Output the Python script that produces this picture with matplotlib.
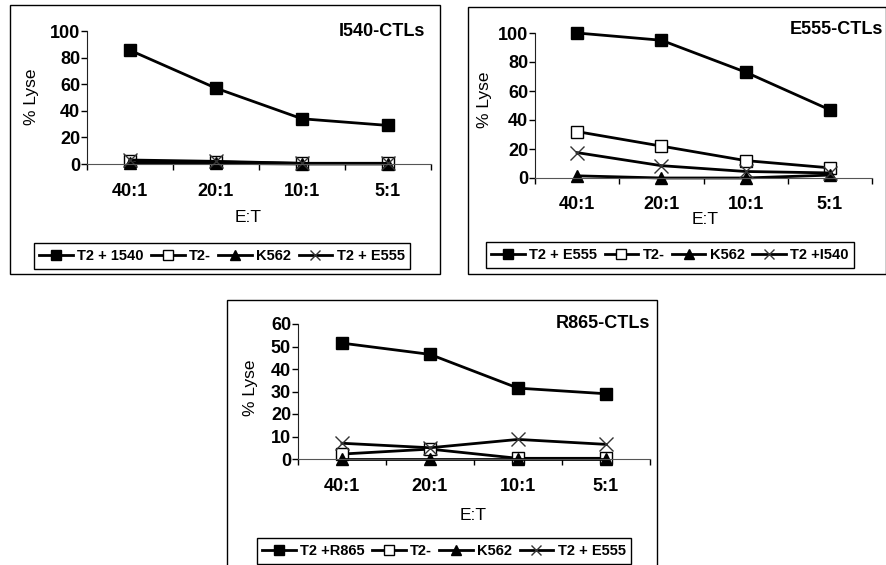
import matplotlib.pyplot as plt
from matplotlib.patches import Rectangle
from matplotlib.lines import Line2D

plt.rcParams['font.family'] = ['Liberation Sans', 'DejaVu Sans']

W, H = 887, 565

ratios = ['40:1', '20:1', '10:1', '5:1']

# I540-CTLs panel
i540_own = [85.5, 57, 34, 29]
i540_t2neg = [2, 1.5, 0.5, 0.5]
i540_k562 = [1, 0.5, 0, 0]
i540_e555 = [3, 2, 0.5, 0.5]
i540_labels = ['T2 + 1540', 'T2-', 'K562', 'T2 + E555']

# E555-CTLs panel
e555_own = [100, 95, 73, 47]
e555_t2neg = [32, 22, 12, 7]
e555_k562 = [1.5, 0, 0, 2]
e555_i540 = [17.5, 8.5, 4.5, 3.5]
e555_labels = ['T2 + E555', 'T2-', 'K562', 'T2 +I540']

# R865-CTLs panel
r865_own = [51.5, 46.5, 31.5, 29]
r865_t2neg = [2.2, 4.4, 0.3, 0.3]
r865_k562 = [0, 0, 0, 0]
r865_e555 = [7, 5, 8.7, 6.5]
r865_labels = ['T2 +R865', 'T2-', 'K562', 'T2 + E555']

styles = [
    dict(marker='s', mfc='k', mec='k', ms=8.5),
    dict(marker='s', mfc='w', mec='k', ms=8.5, mew=1),
    dict(marker='^', mfc='k', mec='k', ms=8.5),
    dict(marker='x', mfc='none', mec='#333333', ms=9.5, mew=1),
]


def fx(x):
    return x / W


def fy(y):
    return 1 - y / H


def draw_panel(fig, frame, axbox, ymax, ystep, series, labels, title,
               title_xy, ylab_xy, xlab_xy, leg_xy, tick_pad):
    x0, y0, x1, y1 = frame
    fig.patches.append(Rectangle((fx(x0), fy(y1)), (x1 - x0) / W, (y1 - y0) / H,
                                 transform=fig.transFigure, fill=False,
                                 edgecolor='k', lw=1))

    l, t, r, b = axbox
    ax = fig.add_axes([fx(l), fy(b), (r - l) / W, (b - t) / H])
    ax.set_facecolor('none')

    xs = range(len(ratios))
    for vals, st in zip(series, styles):
        ax.plot(xs, vals, color='k', lw=2, clip_on=False, **st)

    ax.set_xlim(-0.5, 3.5)
    ax.set_ylim(0, ymax)
    ax.set_yticks(range(0, ymax + 1, ystep))
    ax.set_xticks([-0.5, 0.5, 1.5, 2.5, 3.5])
    ax.set_xticklabels([])
    ax.set_xticks(list(xs), minor=True)
    ax.set_xticklabels(ratios, minor=True)
    ax.tick_params(axis='x', which='major', length=4, direction='out', width=1)
    ax.tick_params(axis='x', which='minor', length=0, pad=tick_pad, labelsize=13)
    ax.tick_params(axis='y', length=4, direction='out', width=1, pad=1, labelsize=13)
    for lab in ax.get_xticklabels(minor=True) + ax.get_yticklabels():
        lab.set_fontweight('bold')
    for s in ['top', 'right']:
        ax.spines[s].set_visible(False)
    ax.spines['left'].set_color('#222222')
    ax.spines['bottom'].set_color('#555555')

    fig.text(fx(title_xy[0]), fy(title_xy[1]), title, ha='right', va='center',
             fontsize=13, fontweight='bold')
    fig.text(fx(ylab_xy[0]), fy(ylab_xy[1]), '% Lyse', rotation=90,
             ha='center', va='center', fontsize=12.5)
    fig.text(fx(xlab_xy[0]), fy(xlab_xy[1]), 'E:T', ha='center', va='center',
             fontsize=12.5)

    handles = [Line2D([], [], color='k', lw=2, **dict(st, ms=st['ms'] * 0.8))
               for st in styles]
    leg = fig.legend(handles, labels, loc='center', ncol=4,
                     bbox_to_anchor=(fx(leg_xy[0]), fy(leg_xy[1])),
                     frameon=True, fancybox=False, edgecolor='k', framealpha=1,
                     prop={'size': 10.5, 'weight': 'bold'},
                     handlelength=2.3, handletextpad=0.3,
                     columnspacing=0.5, borderpad=0.4, borderaxespad=0)
    leg.get_frame().set_linewidth(1)
    return ax


fig = plt.figure(figsize=(W / 100, H / 100), dpi=100)

draw_panel(fig, (10, 5, 440, 274), (87, 31, 431, 164), 100, 20,
           [i540_own, i540_t2neg, i540_k562, i540_e555], i540_labels,
           'I540-CTLs', (425, 32), (32, 97), (248, 218), (222, 256), 14)

draw_panel(fig, (468, 7, 886, 274), (535, 33, 872, 178), 100, 20,
           [e555_own, e555_t2neg, e555_k562, e555_i540], e555_labels,
           'E555-CTLs', (883, 30), (485, 100), (705, 220), (670, 255), 13)

draw_panel(fig, (227, 300, 657, 570), (298, 324, 650, 459), 60, 10,
           [r865_own, r865_t2neg, r865_k562, r865_e555], r865_labels,
           'R865-CTLs', (650, 324), (251, 388), (473, 515), (444, 551), 14)

fig.savefig('out.png', dpi=100)
